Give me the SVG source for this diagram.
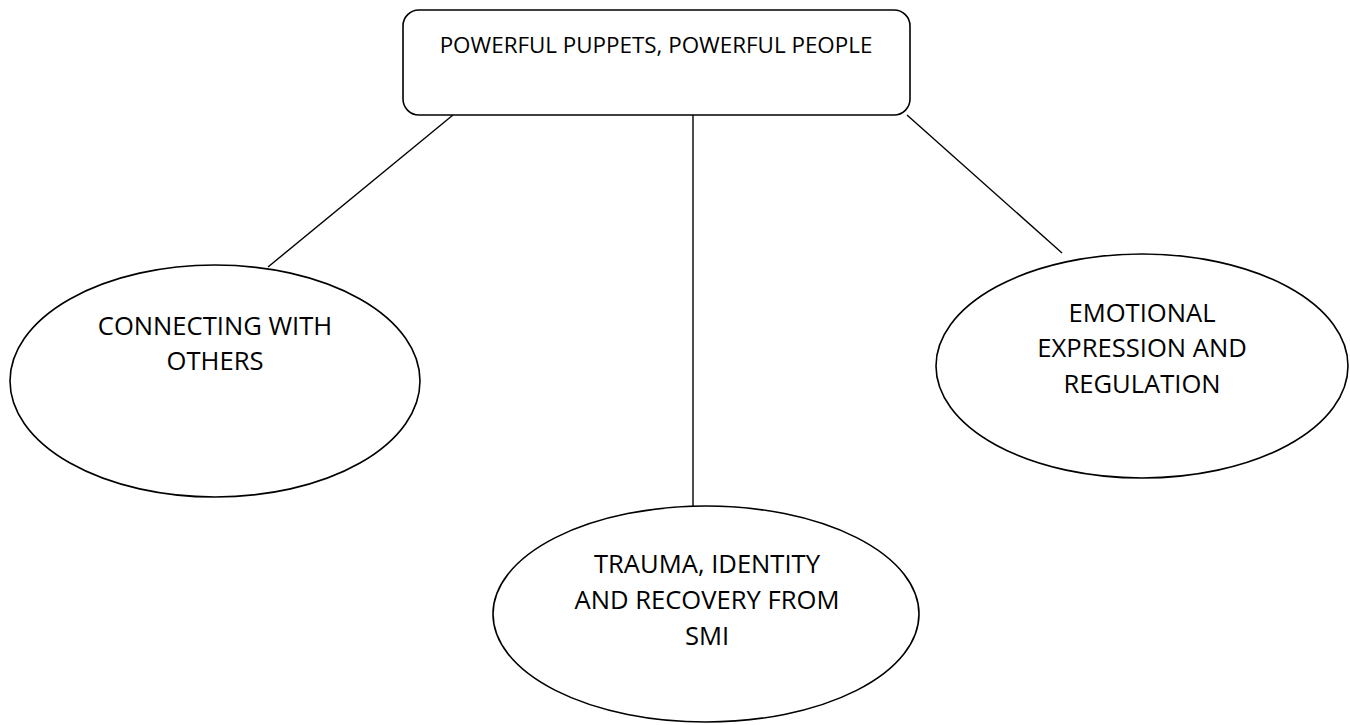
<svg xmlns="http://www.w3.org/2000/svg" width="1350" height="725" viewBox="0 0 1350 725">
<style>
.shape{fill:#fff;stroke:#000;stroke-width:1.6}
.conn{stroke:#000;stroke-width:1.4;fill:none}
text{font-family:"Open Sans","Liberation Sans",sans-serif;font-size:25.6px;fill:#000;text-anchor:middle}
text.title{font-size:22.4px}
</style>
<rect width="1350" height="725" fill="#fff"/>
<g id="connectors">
<line class="conn" x1="453" y1="115" x2="268" y2="267"/>
<line class="conn" x1="693" y1="115" x2="693" y2="506"/>
<line class="conn" x1="907" y1="115" x2="1062" y2="253"/>
</g>
<g id="root">
<rect class="shape" x="403" y="10" width="507" height="105" rx="16" ry="16"/>
<text class="title" x="656" y="53">POWERFUL PUPPETS, POWERFUL PEOPLE</text>
</g>
<g id="connecting">
<ellipse class="shape" cx="215" cy="381" rx="205" ry="116"/>
<text x="215" y="335">CONNECTING WITH</text>
<text x="215" y="370">OTHERS</text>
</g>
<g id="emotional">
<ellipse class="shape" cx="1142" cy="366" rx="206" ry="112"/>
<text x="1142" y="322">EMOTIONAL</text>
<text x="1142" y="357">EXPRESSION AND</text>
<text x="1142" y="393">REGULATION</text>
</g>
<g id="trauma">
<ellipse class="shape" cx="706" cy="614" rx="213" ry="108"/>
<text x="707" y="573">TRAUMA, IDENTITY</text>
<text x="707" y="609">AND RECOVERY FROM</text>
<text x="707" y="645">SMI</text>
</g>
</svg>
